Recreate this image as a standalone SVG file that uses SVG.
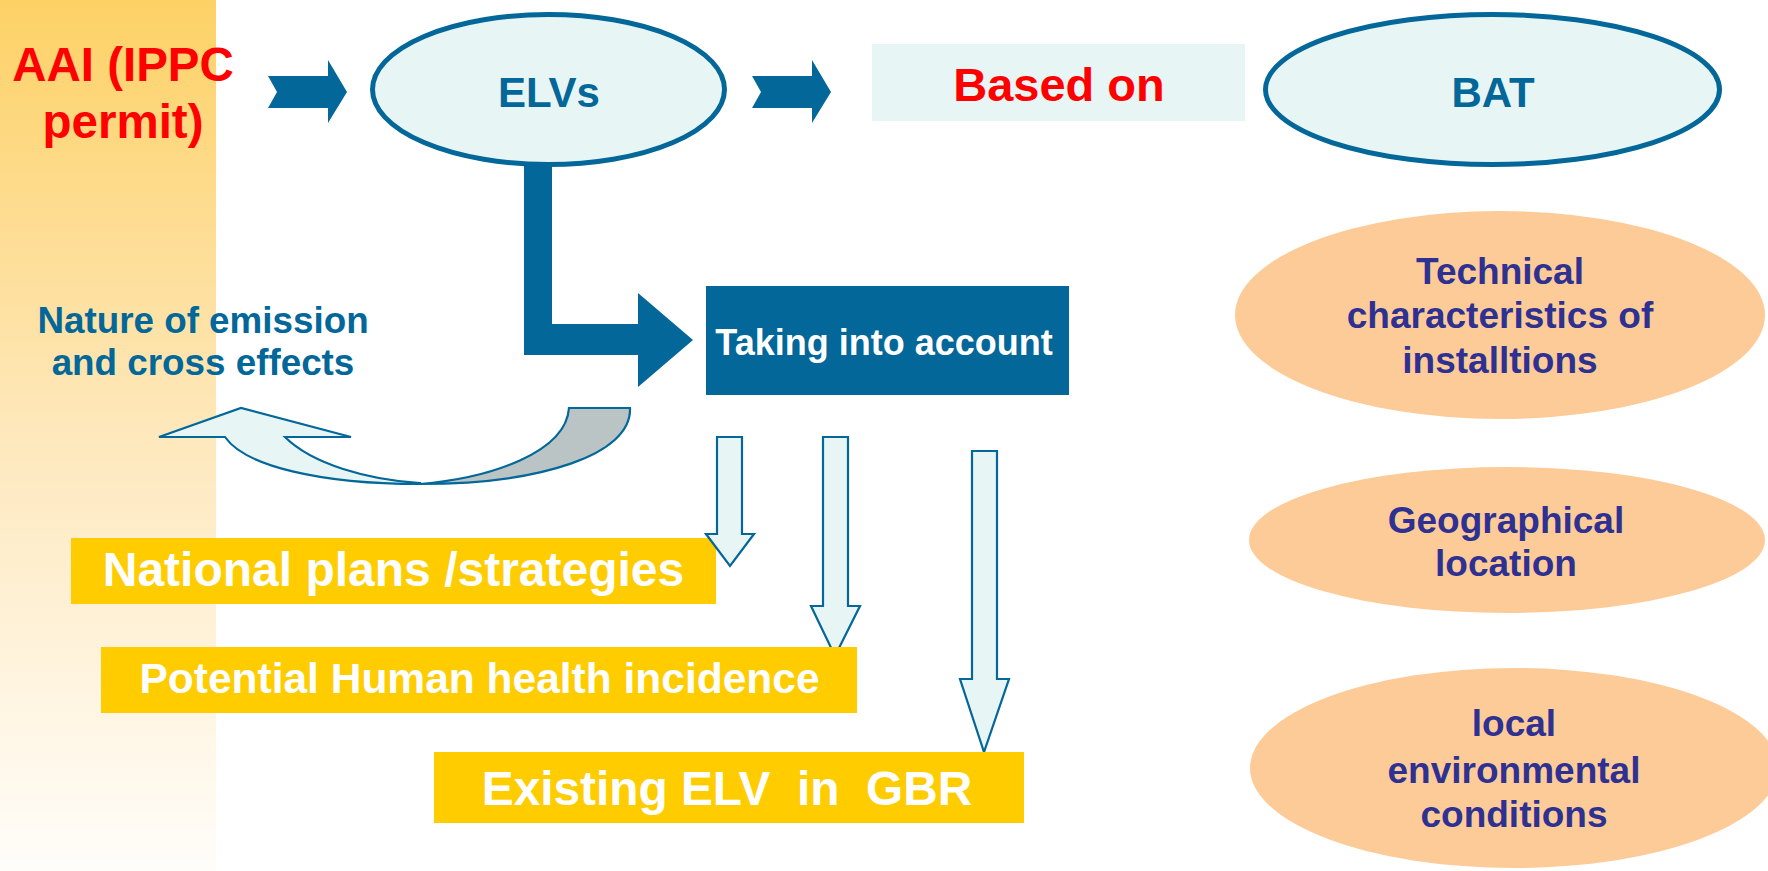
<svg xmlns="http://www.w3.org/2000/svg" width="1768" height="871" viewBox="0 0 1768 871">
  <defs>
    <linearGradient id="stripFill" x1="0" y1="0" x2="0" y2="1">
      <stop offset="0" stop-color="#FDD166"/>
      <stop offset="0.5" stop-color="#FEE8BC"/>
      <stop offset="1" stop-color="#FFFDFA"/>
    </linearGradient>
  </defs>
  <style>
    text { font-family: "Liberation Sans", Arial, sans-serif; font-weight: bold; text-anchor: middle; }
    .solid { fill: #036799; }
    .oval { fill: #E8F5F5; stroke: #036799; stroke-width: 5; }
    .hollow { fill: #E8F5F5; stroke: #036799; stroke-width: 2.2; stroke-linejoin: miter; }
    .back { fill: #BAC4C5; stroke: #036799; stroke-width: 2.2; }
    .gold { fill: #FFCC00; }
    .peach { fill: #FDCB98; }
    .blue { fill: #036799; }
    .red { fill: #FF0000; }
    .white { fill: #FFFFFF; }
    .indigo { fill: #2E3192; font-size: 37px; }
  </style>

  <!-- side band -->
  <rect x="0" y="0" width="216" height="871" fill="url(#stripFill)"/>

  <g id="node-aai">
    <text class="red" x="123" y="81" font-size="47.5">AAI (IPPC</text>
    <text class="red" x="123" y="138" font-size="47.5">permit)</text>
  </g>

  <g id="node-national">
    <rect class="gold" x="71" y="538" width="645" height="66"/>
    <text class="white" x="393.5" y="586" font-size="48">National plans /strategies</text>
  </g>

  <g id="connectors">
    <!-- chevron arrows on the top row -->
    <path class="solid" d="M268,76 L328,76 L328,60 L347,92 L328,123 L328,108 L268,108 L277,92 Z"/>
    <path class="solid" d="M752,76 L812,76 L812,60 L831,92 L812,123 L812,108 L752,108 L761,92 Z"/>
    <!-- bent arrow from ELVs to "Taking into account" -->
    <path class="solid" d="M524,150 L552,150 L552,324 L638,324 L638,293 L693,340 L638,387 L638,355 L524,355 Z"/>
    <!-- curved return arrow -->
    <path class="back" d="M569,408 L630,408 C632,455 540,484 420,484 C492,478 566,452 569,408 Z"/>
    <path class="hollow" d="M420,484 C320,484 245,466 225,437 L159,437 L241,408 L351,437 L285,437 C312,464 368,480 420,483 Z"/>
    <!-- downward arrows -->
    <path class="hollow" d="M717,437 L742,437 L742,534 L754,534 L730,566 L706,534 L717,534 Z"/>
    <path class="hollow" d="M823,437 L848,437 L848,606 L860,606 L835,656 L811,606 L823,606 Z"/>
    <path class="hollow" d="M972,451 L997,451 L997,679 L1009,679 L984,752 L960,679 L972,679 Z"/>
  </g>

  <g id="node-elvs">
    <ellipse class="oval" cx="548.5" cy="89.5" rx="176" ry="75"/>
    <text class="blue" x="549" y="107" font-size="42">ELVs</text>
  </g>

  <g id="node-based-on">
    <rect x="872" y="44" width="373" height="77" fill="#E8F5F5"/>
    <text class="red" x="1059" y="101" font-size="47">Based on</text>
  </g>

  <g id="node-bat">
    <ellipse class="oval" cx="1492.5" cy="89.5" rx="227" ry="75"/>
    <text class="blue" x="1493" y="107" font-size="42">BAT</text>
  </g>

  <g id="node-nature">
    <text class="blue" x="203" y="333" font-size="36.8">Nature of emission</text>
    <text class="blue" x="203" y="375" font-size="36.8">and cross effects</text>
  </g>

  <g id="node-taking">
    <rect class="solid" x="706" y="286" width="363" height="109"/>
    <text class="white" x="884" y="355" font-size="36">Taking into account</text>
  </g>

  <g id="node-health">
    <rect class="gold" x="101" y="647" width="756" height="66"/>
    <text class="white" x="479.5" y="693" font-size="42.5">Potential Human health incidence</text>
  </g>

  <g id="node-existing">
    <rect class="gold" x="434" y="752" width="590" height="71"/>
    <text class="white" x="727" y="805" font-size="47.8" xml:space="preserve">Existing ELV  in  GBR</text>
  </g>

  <g id="node-technical">
    <ellipse class="peach" cx="1500" cy="315" rx="265" ry="104"/>
    <text class="indigo" x="1500" y="284">Technical</text>
    <text class="indigo" x="1500" y="328">characteristics of</text>
    <text class="indigo" x="1500" y="373">installtions</text>
  </g>

  <g id="node-geographical">
    <ellipse class="peach" cx="1507" cy="540" rx="258" ry="73"/>
    <text class="indigo" x="1506" y="533">Geographical</text>
    <text class="indigo" x="1506" y="576">location</text>
  </g>

  <g id="node-local">
    <ellipse class="peach" cx="1514" cy="768" rx="264" ry="100"/>
    <text class="indigo" x="1514" y="736">local</text>
    <text class="indigo" x="1514" y="783">environmental</text>
    <text class="indigo" x="1514" y="827">conditions</text>
  </g>
</svg>
